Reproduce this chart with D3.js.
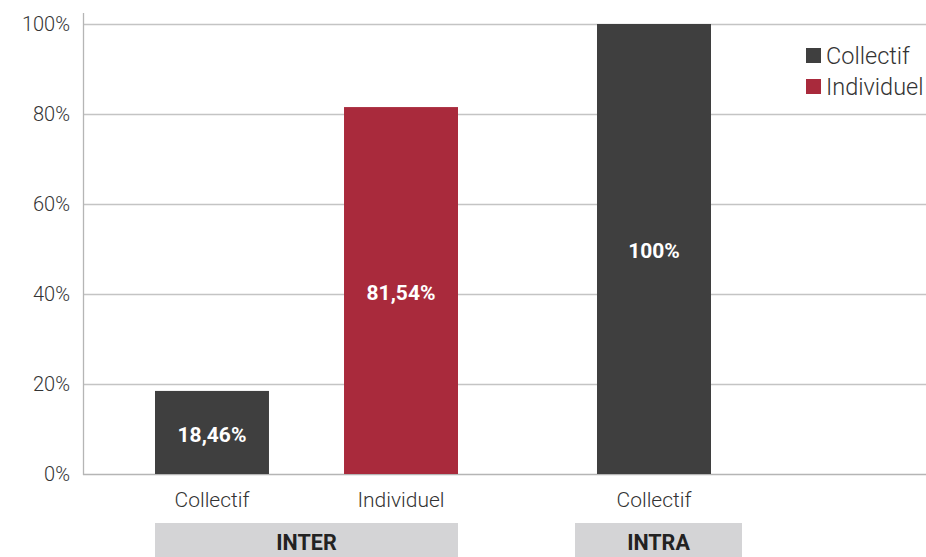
<!DOCTYPE html>
<html><head><meta charset="utf-8">
<script src="https://cdn.jsdelivr.net/npm/d3@7"></script>
<style>body{margin:0;background:#fff}svg{display:block;font-family:Roboto,sans-serif}</style>
</head><body><svg id="c" width="926" height="557"></svg>
<script>
const groups = ["INTER", "INTRA"];
const categories = [["Collectif", "Individuel"], ["Collectif"]];
const values = [[18.46, 81.54], [100]];
const labels = [["18,46%", "81,54%"], ["100%"]];
const series = ["Collectif", "Individuel"];
const colors = ["#3f3f3f", "#a92a3c"];
const yTicks = [0, 20, 40, 60, 80, 100];

const svg = d3.select("#c");
const y = d3.scaleLinear().domain([0, 100]).range([474, 24]);
const color = d3.scaleOrdinal().domain(series).range(colors);
const groupRange = d3.scaleOrdinal().domain(groups).range([[155, 458], [575, 742]]);
const x0 = 83, x1 = 926;

// gridlines
svg.append("g").selectAll("line").data(yTicks).join("line")
  .attr("x1", x0).attr("x2", x1)
  .attr("y1", d => y(d) + 0.5).attr("y2", d => y(d) + 0.5)
  .attr("stroke", d => d === 0 ? "#b5b5b5" : "#c4c4c4").attr("stroke-width", 1.3);
svg.append("line").attr("x1", x0 + 0.5).attr("x2", x0 + 0.5).attr("y1", 13).attr("y2", 475)
  .attr("stroke", "#b5b5b5").attr("stroke-width", 1.3);

// y tick labels
svg.append("g").selectAll("text").data(yTicks).join("text")
  .attr("x", 70).attr("y", d => y(d)).attr("dy", "0.35em")
  .attr("text-anchor", "end").attr("font-size", 20).attr("font-weight", 300).attr("fill", "#333")
  .text(d => d + "%");

groups.forEach((g, gi) => {
  const [a, b] = groupRange(g);
  const n = categories[gi].length;
  const band = n === 1
    ? d3.scaleBand().domain(d3.range(n)).range([a, b]).paddingInner(0).paddingOuter(0.2325).align(0.415)
    : d3.scaleBand().domain(d3.range(n)).range([a, b]).paddingInner(0.397).paddingOuter(0);
  const gg = svg.append("g");
  categories[gi].forEach((cat, i) => {
    const v = values[gi][i];
    gg.append("rect").attr("x", band(i)).attr("width", band.bandwidth())
      .attr("y", y(v)).attr("height", y(0) - y(v)).attr("fill", color(cat));
    gg.append("text").attr("x", band(i) + band.bandwidth() / 2).attr("y", (y(v) + y(0)) / 2 + 2)
      .attr("dy", "0.35em").attr("text-anchor", "middle").attr("font-size", 21).attr("font-weight", 700)
      .attr("fill", "#fff").text(labels[gi][i]);
    gg.append("text").attr("x", band(i) + band.bandwidth() / 2).attr("y", 500)
      .attr("dy", "0.35em").attr("text-anchor", "middle").attr("font-size", 21).attr("font-weight", 300)
      .attr("fill", "#333").text(cat);
  });
  gg.append("rect").attr("x", a).attr("width", b - a).attr("y", 523).attr("height", 34).attr("fill", "#d4d4d6");
  gg.append("text").attr("x", (a + b) / 2).attr("y", 542).attr("dy", "0.35em").attr("text-anchor", "middle")
    .attr("font-size", 21.5).attr("font-weight", 700).attr("fill", "#222").text(g);
});

// legend
const leg = svg.append("g").selectAll("g").data(series).join("g")
  .attr("transform", (d, i) => `translate(806,${48 + i * 31})`);
leg.append("rect").attr("width", 15).attr("height", 15).attr("fill", d => color(d));
leg.append("text").attr("x", 20).attr("y", 7.5).attr("dy", "0.35em").attr("font-size", 23.5)
  .attr("font-weight", 300).attr("fill", "#333").text(d => d);
</script></body></html>
